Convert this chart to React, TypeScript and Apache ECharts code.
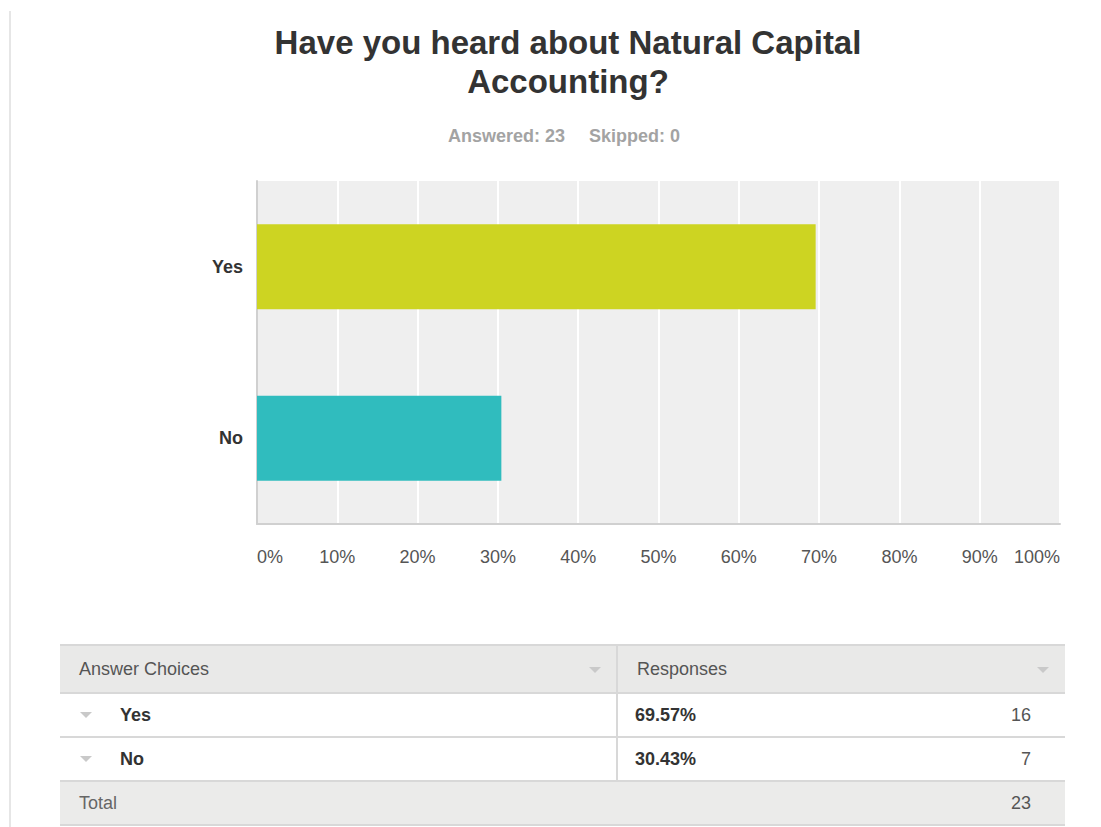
import React, { useEffect, useRef } from "react";
import * as echarts from "echarts";

const categories = ["Yes", "No"];
const percents = [69.57, 30.43];
const counts = [16, 7];
const total = 23;
const skipped = 0;
const barColors = ["#cdd422", "#30bcbe"];
const xTicks = [0, 10, 20, 30, 40, 50, 60, 70, 80, 90, 100];

const FONT = "'Liberation Sans', Arial, sans-serif";
const FS = 18;

function tri(cx: number, cy: number) {
  return {
    type: "polygon",
    shape: { points: [[cx - 6, cy - 3], [cx + 6, cy - 3], [cx, cy + 3]] },
    style: { fill: "#c9c9c9" },
    silent: true,
  };
}

export default function App() {
  const ref = useRef<HTMLDivElement>(null);
  useEffect(() => {
    if (!ref.current) return;
    const chart = echarts.init(ref.current, undefined, { renderer: "svg" });

    const tblL = 60, tblR = 1065, colX = 617;
    const rowTops = [645, 693, 737, 781, 825];
    const graphics: any[] = [];
    // left page border
    graphics.push({ type: "line", shape: { x1: 10, y1: 11, x2: 10, y2: 827 }, style: { stroke: "#e6e6e6", lineWidth: 2 } });
    // header + total bg
    graphics.push({ type: "rect", shape: { x: tblL, y: rowTops[0], width: tblR - tblL, height: rowTops[1] - rowTops[0] }, style: { fill: "#e9e9e8" } });
    graphics.push({ type: "rect", shape: { x: tblL, y: rowTops[3], width: tblR - tblL, height: rowTops[4] - rowTops[3] }, style: { fill: "#ebebea" } });
    rowTops.forEach((y) => {
      graphics.push({ type: "line", shape: { x1: tblL, y1: y, x2: tblR, y2: y }, style: { stroke: "#d8d8d8", lineWidth: 2 } });
    });
    graphics.push({ type: "line", shape: { x1: colX, y1: rowTops[0], x2: colX, y2: rowTops[3] }, style: { stroke: "#d8d8d8", lineWidth: 2 } });
    // header texts
    const hy = (rowTops[0] + rowTops[1]) / 2;
    graphics.push({ type: "text", x: 79, y: hy, style: { text: "Answer Choices", fill: "#555", font: `${FS}px ${FONT}`, textVerticalAlign: "middle", textAlign: "left" } });
    graphics.push({ type: "text", x: 637, y: hy, style: { text: "Responses", fill: "#555", font: `${FS}px ${FONT}`, textVerticalAlign: "middle", textAlign: "left" } });
    graphics.push(tri(595, hy + 1));
    graphics.push(tri(1043, hy + 1));
    categories.forEach((c, i) => {
      const cy = (rowTops[i + 1] + rowTops[i + 2]) / 2;
      graphics.push(tri(86, cy));
      graphics.push({ type: "text", x: 120, y: cy, style: { text: c, fill: "#333", font: `bold ${FS}px ${FONT}`, textVerticalAlign: "middle", textAlign: "left" } });
      graphics.push({ type: "text", x: 635, y: cy, style: { text: percents[i].toFixed(2) + "%", fill: "#333", font: `bold ${FS}px ${FONT}`, textVerticalAlign: "middle", textAlign: "left" } });
      graphics.push({ type: "text", x: 1031, y: cy, style: { text: String(counts[i]), fill: "#555", font: `${FS}px ${FONT}`, textVerticalAlign: "middle", textAlign: "right" } });
    });
    const ty = (rowTops[3] + rowTops[4]) / 2;
    graphics.push({ type: "text", x: 79, y: ty, style: { text: "Total", fill: "#666", font: `${FS}px ${FONT}`, textVerticalAlign: "middle", textAlign: "left" } });
    graphics.push({ type: "text", x: 1031, y: ty, style: { text: String(total), fill: "#555", font: `${FS}px ${FONT}`, textVerticalAlign: "middle", textAlign: "right" } });
    // subtitle
    graphics.push({ type: "text", x: 565, y: 136, style: { text: `Answered: ${total}`, fill: "#a3a3a3", font: `bold ${FS}px ${FONT}`, textVerticalAlign: "middle", textAlign: "right" } });
    graphics.push({ type: "text", x: 589, y: 136, style: { text: `Skipped: ${skipped}`, fill: "#a3a3a3", font: `bold ${FS}px ${FONT}`, textVerticalAlign: "middle", textAlign: "left" } });

    chart.setOption({
      animation: false,
      backgroundColor: "#ffffff",
      title: {
        text: "Have you heard about Natural Capital\nAccounting?",
        left: 563,
        top: 18,
        textAlign: "center",
        textStyle: { fontFamily: FONT, fontSize: 33, fontWeight: "bold", color: "#333", lineHeight: 39 },
      },
      grid: {
        left: 257, right: 41, top: 181, bottom: 303,
        show: true, backgroundColor: "#efefef", borderWidth: 0,
      },
      xAxis: {
        type: "value",
        min: xTicks[0],
        max: xTicks[xTicks.length - 1],
        interval: 10,
        axisLine: { show: true, lineStyle: { color: "#d0d0d0", width: 2 } },
        axisTick: { show: false },
        splitLine: { show: true, lineStyle: { color: "#ffffff", width: 2 } },
        axisLabel: {
          formatter: "{value}%",
          color: "#555",
          fontFamily: FONT,
          fontSize: FS,
          margin: 24,
          alignMinLabel: "left",
          alignMaxLabel: "right",
        },
      },
      yAxis: {
        type: "category",
        data: categories,
        inverse: true,
        axisLine: { show: true, onZero: false, lineStyle: { color: "#d0d0d0", width: 2 } },
        axisTick: { show: false },
        axisLabel: { color: "#333", fontFamily: FONT, fontSize: FS, fontWeight: "bold", margin: 14 },
      },
      series: [
        {
          type: "bar",
          data: percents.map((v, i) => ({ value: v, itemStyle: { color: barColors[i] } })),
          barWidth: 85,
        },
      ],
      graphic: graphics,
    });
    return () => chart.dispose();
  }, []);
  return <div ref={ref} style={{ position: "fixed", left: 0, top: 0, width: 1101, height: 827 }} />;
}
